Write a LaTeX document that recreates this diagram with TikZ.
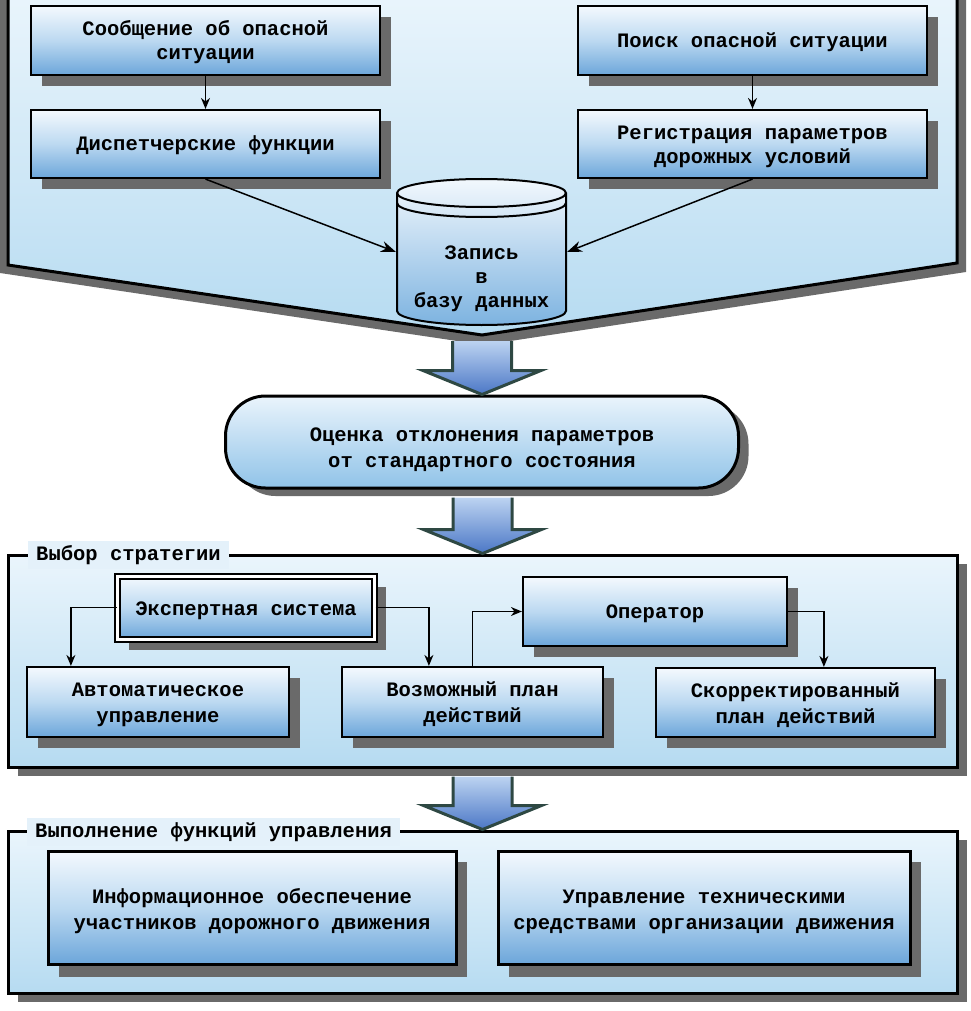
\documentclass[tikz,border=0pt]{standalone}
\usepackage{fontspec}
\newfontfamily\cour{Liberation Mono}
\usetikzlibrary{arrows.meta,shadows,calc}
\definecolor{bxTop}{HTML}{F4F9FE}
\definecolor{bxMid}{HTML}{BCD9F1}
\definecolor{bxBot}{HTML}{6CA6DA}
\definecolor{pnTop}{HTML}{EAF5FC}
\definecolor{pnBot}{HTML}{B6DBF1}
\definecolor{lblBg}{HTML}{E4F1FA}
\definecolor{shd}{HTML}{6A6A6A}
\definecolor{arTop}{HTML}{BCD3F1}
\definecolor{arBot}{HTML}{4B77C6}
\definecolor{arLine}{HTML}{2E4843}
\definecolor{stTop}{HTML}{EAF4FC}
\definecolor{stBot}{HTML}{90C3E8}
\definecolor{cyTop}{HTML}{F2F8FD}
\definecolor{cyBot}{HTML}{7DB3E0}
\tikzset{
  tstrut/.style={execute at begin node={\rule{0pt}{#1}}},
  txt/.style={font=\cour\bfseries\fontsize{20.5}{24}\selectfont, align=center, text=black},
  txtw/.style={font=\cour\bfseries\fontsize{20.5}{26}\selectfont, align=center, text=black},
  boxshadow/.style={drop shadow={shadow xshift=11pt, shadow yshift=-11pt, fill=shd, opacity=1}},
  sbox/.style={txt, draw=black, line width=2.2pt, top color=bxTop, bottom color=bxBot, middle color=bxMid, boxshadow, inner sep=0pt},
  wbox/.style={sbox, txtw},
  bigbox/.style={wbox, line width=3pt, drop shadow={shadow xshift=11pt, shadow yshift=-13pt, fill=shd, opacity=1}},
  dblbox/.style={sbox, line width=2pt, double=white, double distance=3pt},
  stad/.style={txtw, draw=black, line width=3pt, rounded corners=40pt, top color=stTop, bottom color=stBot, drop shadow={shadow xshift=10pt, shadow yshift=-8pt, fill=shd, opacity=1}, inner sep=0pt},
  panel/.style={draw=black, line width=3pt, top color=pnTop, bottom color=pnBot, drop shadow={shadow xshift=10pt, shadow yshift=-9pt, fill=shd, opacity=1}, inner sep=0pt},
  lbl/.style={txt, fill=lblBg, inner xsep=8pt, inner ysep=0pt, minimum height=28pt},
  conn/.style={draw=black, line width=1.3pt, -{Stealth[length=11pt,width=9pt]}},
  conndb/.style={draw=black, line width=1.5pt, -{Stealth[length=15pt,width=11pt]}},
  cyl/.style={draw=black, line width=2pt},
  barrowfill/.style={top color=arTop, bottom color=arBot},
  barrowline/.style={draw=arLine, line width=3pt, line join=miter},
}
\newcommand{\blockarr}[3]{%
  \path[barrowfill] let \p1=(#1), \p2=(#2) in
    (\x2-29.5pt,\y1-#3) -- (\x2-29.5pt,\y2+24pt) -- (\x2-59pt,\y2+24pt) -- (\x2,\y2)
    -- (\x2+59pt,\y2+24pt) -- (\x2+29.5pt,\y2+24pt) -- (\x2+29.5pt,\y1-#3) -- cycle;
  \path[barrowline] let \p1=(#1), \p2=(#2) in
    (\x2-29.5pt,\y1-#3) -- (\x2-29.5pt,\y2+24pt) -- (\x2-59pt,\y2+24pt) -- (\x2,\y2)
    -- (\x2+59pt,\y2+24pt) -- (\x2+29.5pt,\y2+24pt) -- (\x2+29.5pt,\y1-#3);
}
\begin{document}
\begin{tikzpicture}[x=1pt,y=-1pt]
\useasboundingbox (0,0) rectangle (970,1011);
\clip (0,0) rectangle (970,1011);

% ---------- top panel ----------
\fill[shd] (0,-10) -- (0,273) -- (484,345) -- (966,272) -- (966,-10) -- cycle;
\path[draw=black, line width=3pt, top color=pnTop, bottom color=pnBot]
  (8,-10) -- (8,265) -- (482,335) coordinate (p1tip) -- (957,263) -- (957,-10) -- cycle;

\node[sbox, tstrut=43pt, minimum width=349pt, minimum height=69pt] (b1) at (205.5,40.5) {Сообщение об опасной\\ситуации};
\node[sbox, tstrut=18pt, minimum width=349pt, minimum height=68pt] (b2) at (205.5,144) {Диспетчерские функции};
\node[sbox, tstrut=18pt, minimum width=349pt, minimum height=69pt] (b3) at (752.5,40.5) {Поиск опасной ситуации};
\node[sbox, tstrut=43pt, minimum width=349pt, minimum height=68pt] (b4) at (752.5,144) {Регистрация параметров\\дорожных условий};

% database cylinder
\path[cyl, top color=cyTop, bottom color=cyBot]
  (397,193) -- (397,311) arc[start angle=180, end angle=360, x radius=84.5pt, y radius=14pt]
  -- (566,193) arc[start angle=0, end angle=180, x radius=84.5pt, y radius=14pt] -- cycle;
\draw[cyl] (397,193) arc[start angle=180, end angle=360, x radius=84.5pt, y radius=14pt];
\draw[cyl] (397,203) arc[start angle=180, end angle=360, x radius=84.5pt, y radius=14pt];
\node[txt] (db) at (481.5,279) {Запись\\в\\базу данных};
\coordinate (cylL) at (396,252);
\coordinate (cylR) at (567,252);

\draw[conn] (b1) -- (b2);
\draw[conn] (b3) -- (b4);
\draw[conndb] (b2.south) -- (cylL);
\draw[conndb] (b4.south) -- (cylR);

% ---------- evaluation ----------
\node[stad, tstrut=56pt, minimum width=513pt, minimum height=92pt] (eval) at (482,442) {Оценка отклонения параметров\\от стандартного состояния};

% ---------- strategy panel ----------
\node[panel, minimum width=949pt, minimum height=212pt] (p2) at (482.5,661) {};
\node[lbl, anchor=west] (l2) at (28,555) {Выбор стратегии};

\node[dblbox, tstrut=21pt, minimum width=257pt, minimum height=63pt] (exp) at (246,607.5) {Экспертная система};
\node[wbox, tstrut=46pt, minimum width=262pt, minimum height=70pt] (aut) at (158,702) {Автоматическое\\управление};
\node[wbox, tstrut=46pt, minimum width=261pt, minimum height=70pt] (voz) at (472.5,702) {Возможный план\\действий};
\node[sbox, tstrut=19pt, minimum width=264pt, minimum height=69pt] (op) at (655,611.5) {Оператор};
\node[wbox, tstrut=46pt, minimum width=279pt, minimum height=69pt] (kor) at (795.5,702.5) {Скорректированный\\план действий};

\draw[conn] (exp.west) -| ($(aut.north west)+(45,0)$);
\draw[conn] (exp.east) -| ($(voz.north west)+(88,0)$);
\draw[conn] (voz.north) |- (op.west);
\draw[conn] (op.east) -| ($(kor.north west)+(169,0)$);

% ---------- execution panel ----------
\node[panel, minimum width=949pt, minimum height=162pt] (p3) at (482.5,912) {};
\node[lbl, anchor=west] (l3) at (27,832) {Выполнение функций управления};

\node[bigbox, tstrut=49pt, minimum width=408pt, minimum height=113pt] (info) at (252,907.5) {Информационное обеспечение\\участников дорожного движения};
\node[bigbox, tstrut=49pt, minimum width=412pt, minimum height=113pt] (upr) at (704,907.5) {Управление техническими\\средствами организации движения};

% ---------- block arrows ----------
\blockarr{p1tip}{eval.north}{6pt}
\blockarr{eval.south}{p2.north}{8pt}
\blockarr{p2.south}{p3.north}{8pt}
\end{tikzpicture}
\end{document}
